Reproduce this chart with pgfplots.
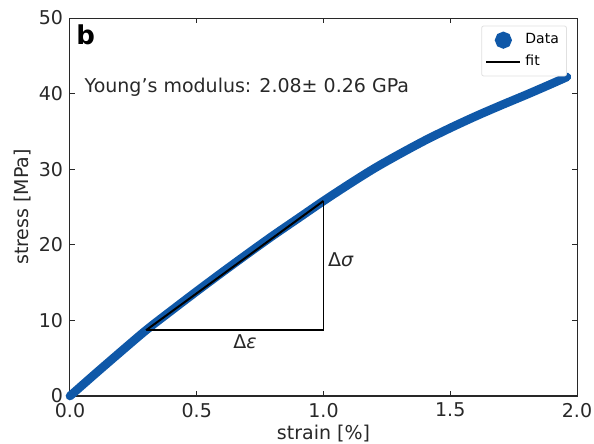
\documentclass[border=0pt]{standalone}
\usepackage{fontspec}
\setmainfont{DejaVu Sans}
\usepackage{pgfplots}
\pgfplotsset{compat=1.18}
\definecolor{datablue}{RGB}{15,88,168}
\definecolor{axgray}{RGB}{40,40,40}

\begin{document}
\begin{tikzpicture}
\begin{axis}[
  name=ax,
  scale only axis, width=253.5pt, height=189pt,
  xmin=0, xmax=2, ymin=0, ymax=50,
  xtick={0,0.5,1,1.5,2}, ytick={0,10,20,30,40,50},
  xticklabel style={/pgf/number format/.cd, fixed, fixed zerofill, precision=1},
  /pgf/number format/assume math mode=true,
  tick label style={font=\fontsize{9.5}{11}\selectfont, text=axgray},
  label style={font=\fontsize{9.5}{11}\selectfont, text=axgray},
  tick align=inside, major tick length=2.5pt,
  every tick/.append style={axgray, line width=0.5pt},
  axis line style={axgray, line width=0.5pt},
  xlabel={strain [\%]}, ylabel={stress [MPa]},
  xlabel style={yshift=3pt}, ylabel style={yshift=-3pt},
  legend style={at={(0.98,0.98)}, anchor=north east, font=\fontsize{7}{8.5}\selectfont,
    draw=black!12, rounded corners=1pt, inner sep=1.8pt, row sep=0pt},
  legend cell align=left,
  clip=false,
]
\addplot[datablue, line width=4.3pt, line cap=round, smooth, tension=0.5,
  legend image code/.code={\fill[datablue] (0.3cm,0) circle (2pt);}]
  coordinates {(0,0) (0.1,2.95) (0.2,5.85) (0.3,8.7) (0.4,11.3) (0.5,13.85) (0.6,16.35)
  (0.7,18.8) (0.8,21.2) (0.9,23.5) (1.0,25.8) (1.1,28.0) (1.2,30.1) (1.3,32.0)
  (1.4,33.8) (1.5,35.45) (1.6,37.0) (1.7,38.45) (1.8,39.85) (1.9,41.3) (1.96,42.2)};
\addlegendentry{Data}
\addplot[black, line width=1pt] coordinates {(0.3,8.7) (1.0,25.8)};
\addlegendentry{fit}
\addplot[black, line width=0.75pt, forget plot] coordinates {(0.305,8.7) (1.0,8.7) (1.0,25.8)};
\node[anchor=north west, inner sep=3pt, font=\fontsize{13}{15}\selectfont\bfseries] at (rel axis cs:0,1) {b};
\node[anchor=west, font=\fontsize{9.5}{11}\selectfont, text=axgray] at (axis cs:0.03,40.9) {Young's modulus: 2.08± 0.26 GPa};
\node[font=\fontsize{9.5}{11}\selectfont, text=axgray] at (axis cs:0.69,7.2) {Δ\textit{ε}};
\node[anchor=west, font=\fontsize{9.5}{11}\selectfont, text=axgray] at (axis cs:0.99,18.0) {Δ\textit{σ}};
\end{axis}
\pgfresetboundingbox
\path (ax.south west) ++(-35pt,-24pt) coordinate (bl);
\path (ax.north east) ++(8.5pt,9pt) coordinate (tr);
\path[use as bounding box] (bl) rectangle (tr);
\end{tikzpicture}
\end{document}
